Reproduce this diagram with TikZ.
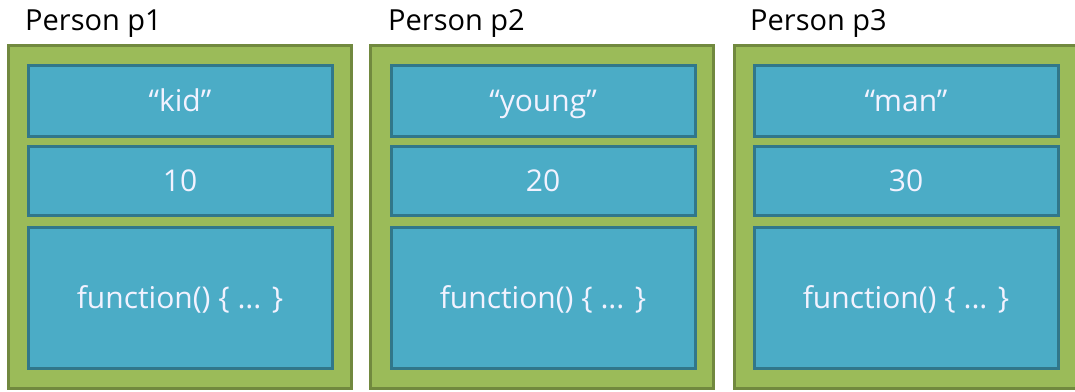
\documentclass[tikz,border=0pt]{standalone}
\usepackage{fontspec}
\setmainfont{Open Sans}
\definecolor{gfill}{HTML}{9BBB59}
\definecolor{gline}{HTML}{71893F}
\definecolor{bfill}{HTML}{4BACC6}
\definecolor{bline}{HTML}{31778A}
\tikzset{
  outerbox/.style={draw=gline, fill=gfill, line width=3pt},
  cellbox/.style={draw=bline, fill=bfill, line width=3pt},
  celltext/.style={text=white!95!blue, font=\fontsize{30}{34}\selectfont, anchor=base, inner sep=0pt},
  title/.style={text=black, font=\fontsize{29}{33}\selectfont, anchor=base west, inner sep=0pt}
}
\begin{document}
\begin{tikzpicture}[x=1pt,y=1pt]
\useasboundingbox (0,0) rectangle (1075,391);
\fill[white] (0,0) rectangle (1075,391);
\foreach \i/\ox/\ix/\name/\age/\tx in {1/8/28/kid/10/25, 2/370/391/young/20/388, 3/734/754/man/30/750} {
  \pgfmathsetmacro{\oxr}{\ox+343}
  \pgfmathsetmacro{\ixr}{\ix+304}
  \node[title] (t\i) at (\tx,360) {Person p\i};
  \draw[outerbox] (\ox,3) rectangle (\oxr,345) coordinate (o\i);
  \draw[cellbox] (\ix,254) rectangle (\ixr,325);
  \draw[cellbox] (\ix,175) rectangle (\ixr,244);
  \draw[cellbox] (\ix,23) rectangle (\ixr,163);
  \pgfmathsetmacro{\cx}{\ix+152}
  \node[celltext] (a\i) at (\cx,279) {“\name”};
  \node[celltext] (b\i) at (\cx,199) {\age};
  \node[celltext] (c\i) at (\cx,83) {function() \{ ... \}};
}
\end{tikzpicture}
\end{document}
